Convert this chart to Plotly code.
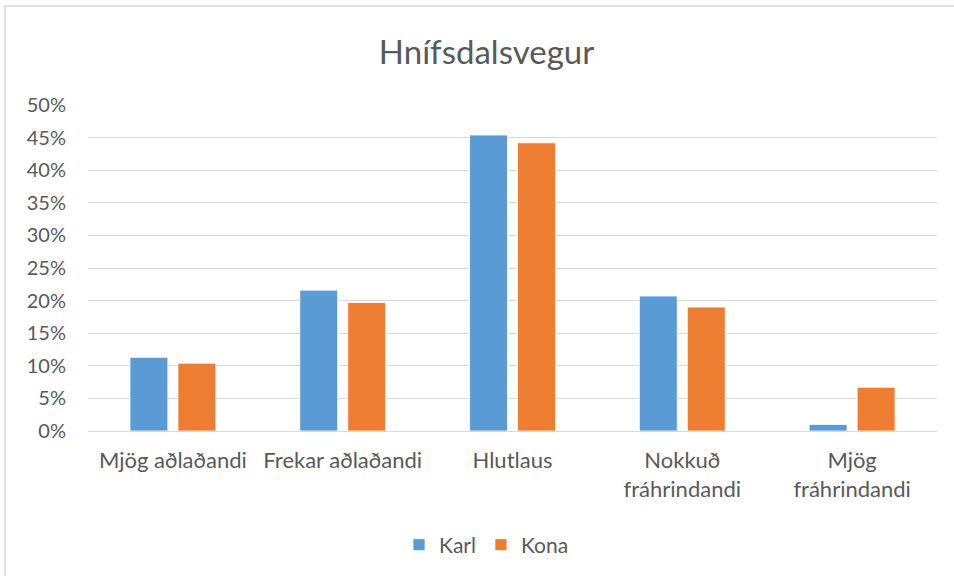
import plotly.graph_objects as go

categories = ["Mjög aðlaðandi", "Frekar aðlaðandi", "Hlutlaus", "Nokkuð<br>fráhrindandi", "Mjög<br>fráhrindandi"]
karl = [0.113, 0.216, 0.454, 0.207, 0.010]
kona = [0.104, 0.197, 0.442, 0.190, 0.067]
series_names = ["Karl", "Kona"]
colors = ["#5B9BD5", "#ED7D31"]

FONT = "Lato, Carlito, Calibri, sans-serif"
GRAY = "#595959"

fig = go.Figure()
for name, vals, col in zip(series_names, [karl, kona], colors):
    fig.add_trace(go.Bar(x=categories, y=vals, name=name,
                         marker=dict(color=col, line=dict(color="white", width=0.8))))

fig.update_layout(
    width=954, height=576,
    paper_bgcolor="white", plot_bgcolor="white",
    margin=dict(l=88, r=17, t=105, b=145),
    barmode="group", bargap=0.435, bargroupgap=0.21,
    font=dict(family=FONT, color=GRAY, size=21),
    title=dict(text="Hnífsdalsvegur", x=0.51, xanchor="center", y=1 - 52 / 576, yanchor="middle",
               yref="container", font=dict(size=33, color=GRAY, family=FONT)),
    showlegend=True,
    legend=dict(orientation="h", xref="container", x=0.51, xanchor="center",
                yref="container", y=1 - 545 / 576, yanchor="middle",
                font=dict(size=21, color=GRAY, family=FONT), itemwidth=30),
    yaxis=dict(range=[0, 0.5], dtick=0.05, tickformat=".0%", showgrid=True,
               gridcolor="#D9D9D9", gridwidth=1, zeroline=False, showline=False,
               ticks="outside", ticklen=17, tickcolor="white",
               tickfont=dict(size=20, color=GRAY, family=FONT)),
    xaxis=dict(showline=True, linecolor="#D9D9D9", linewidth=1, ticks="outside", ticklen=10,
               tickcolor="white", tickfont=dict(size=22, color=GRAY, family=FONT)),
    shapes=[dict(type="rect", xref="paper", yref="paper",
                 x0=-0.0978, x1=1.027, y0=-0.4877, y1=1.3037,
                 line=dict(color="#D9D9D9", width=1.5), layer="below")],
)

fig.write_html("out.html", config={"displayModeBar": False},
               post_script="document.body.style.margin='0';document.body.style.padding='0';")
